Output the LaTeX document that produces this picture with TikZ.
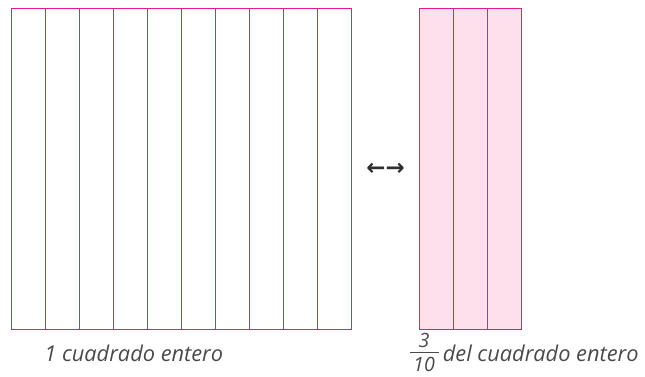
\documentclass[tikz,border=0pt]{standalone}
\usepackage{fontspec}
\setmainfont{Open Sans}
\newfontfamily\arrowfont{DejaVu Sans}
\usepackage{xcolor}
\usepackage{tikz}
\definecolor{FRPink}{HTML}{E5188F}
\definecolor{FRFill}{HTML}{FDE0EC}
\definecolor{FRText}{HTML}{4A4A4A}
\definecolor{FRArrow}{HTML}{2E2E2E}

\begin{document}
\begin{tikzpicture}[x=1cm,y=1cm,
  strip/.style={FRPink,line width=.6pt},
  caption/.style={inner sep=0pt,text=FRText,font=\fontsize{12.4}{14}\selectfont\itshape},
  fracdigit/.style={inner sep=0pt,text=FRText,font=\fontsize{11.2}{12}\selectfont\itshape}]
\path[use as bounding box] (0,0) rectangle (12.90,7.54);
% whole square, ten strips
\draw[strip] (0.23,0.95) rectangle (7.03,7.37);
\draw[strip] (0.91,0.95) -- (0.91,7.37);
\draw[strip] (1.59,0.95) -- (1.59,7.37);
\draw[strip] (2.27,0.95) -- (2.27,7.37);
\draw[strip] (2.95,0.95) -- (2.95,7.37);
\draw[strip] (3.63,0.95) -- (3.63,7.37);
\draw[strip] (4.31,0.95) -- (4.31,7.37);
\draw[strip] (4.99,0.95) -- (4.99,7.37);
\draw[strip] (5.67,0.95) -- (5.67,7.37);
\draw[strip] (6.35,0.95) -- (6.35,7.37);
% three tenths
\fill[FRFill] (8.39,0.95) rectangle (10.43,7.37);
\draw[strip] (8.39,0.95) rectangle (10.43,7.37);
\draw[strip] (9.07,0.95) -- (9.07,7.37);
\draw[strip] (9.75,0.95) -- (9.75,7.37);
\node[inner sep=0pt,text=FRArrow] (swap) at (7.71,4.16) {\arrowfont\bfseries\fontsize{13}{14}\selectfont ←→};
% captions
\node[caption,anchor=base west] (whole) at (0.88,0.30) {1 cuadrado entero};
\node[fracdigit,anchor=base] (num) at (8.48,0.58) {3};
\node[fracdigit,anchor=base] (den) at (8.48,0.10) {10};
\draw[FRText,line width=.55pt] (8.20,0.49) -- (8.78,0.49);
\node[caption,anchor=base west] (part) at (8.85,0.30) {del cuadrado entero};
\end{tikzpicture}
\end{document}
